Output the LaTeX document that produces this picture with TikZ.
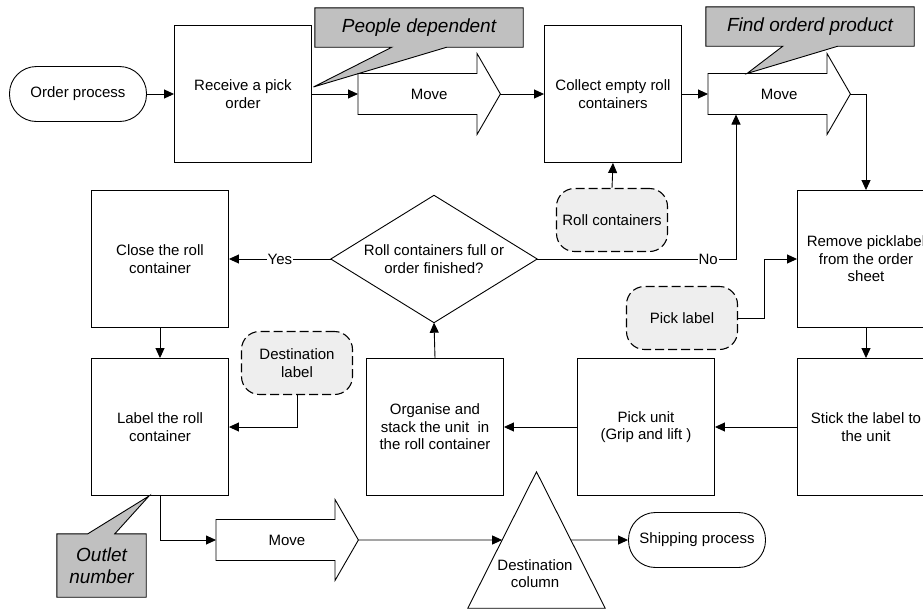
\documentclass[tikz,border=0pt]{standalone}
\usepackage{fontspec}
\setmainfont{Liberation Sans}
\usetikzlibrary{arrows.meta,calc,backgrounds}
\definecolor{callgray}{RGB}{192,192,192}
\definecolor{docgray}{RGB}{238,238,238}
\newcommand\MoveShape[1]{\draw[ln] ($(#1.west)+(0,-20.5)$) -- ++(119,0) -- ++(0,-20) -- (#1.east) -- ($(#1.west)+(119,40.5)$) -- ++(0,-20) -- ($(#1.west)+(0,20.5)$) -- cycle;}
\tikzset{
  txt/.style={font=\fontsize{15}{17.5}\selectfont},
  ln/.style={line width=0.9pt},
  box/.style={txt, draw, ln, minimum width=137pt, minimum height=137pt, align=center, inner sep=2pt},
  pill/.style={txt, draw, ln, rounded corners=27pt, minimum width=137pt, minimum height=55pt},
  doc/.style={txt, draw, line width=1.1pt, dash pattern=on 9pt off 4pt, fill=docgray, rounded corners=18pt, minimum width=111pt, minimum height=63pt, align=center, inner sep=1pt},
  arr/.style={ln, -{Triangle[length=10pt,width=9pt]}},
  lbl/.style={txt, fill=white, inner sep=1pt},
  callt/.style={font=\fontsize{19}{22}\selectfont\itshape, align=center, minimum width=208pt, minimum height=39pt, inner sep=0pt},
  mvnode/.style={txt, minimum width=142pt, minimum height=81pt, inner sep=0pt, anchor=west},
}
\begin{document}
\begin{tikzpicture}[x=1pt,y=-1pt]
\useasboundingbox (0,0) rectangle (923,611);
% nodes
\node[pill] (op) at (78,94) {Order process};
\node[box] (recv) at (243,94) {Receive a pick\\order};
\node[mvnode] (mv1) at (358,94) {Move};
\node[box] (coll) at (613,94) {Collect empty roll\\containers};
\node[mvnode] (mv2) at (708,94) {Move};
\node[box] (rem) at (866,259) {Remove picklabel\\from the order\\sheet};
\node[box] (stick) at (866,427) {Stick the label to\\the unit};
\node[box] (pick) at (646,427) {Pick unit\\(Grip and lift )};
\node[box] (org) at (435,427) {Organise and\\stack the unit\ \ in\\the roll container};
\node[box] (lab) at (160,427) {Label the roll\\container};
\node[box] (close) at (160,259) {Close the roll\\container};
\node[txt, minimum width=206pt, minimum height=127pt, inner sep=0pt, align=center] (dec) at (434,259) {Roll containers full or\\order finished?};
\draw[ln] (dec.north) -- (dec.east) -- (dec.south) -- (dec.west) -- cycle;
\node[doc] (rc) at (612,220) {Roll containers};
\node[doc] (pl) at (682,318) {Pick label};
\node[doc] (dl) at (297,363) {Destination\\label};
\node[mvnode] (mv3) at (216,540) {};
\node[txt] at ($(mv3.west)+(71,0)$) {Move};
\node[minimum width=137pt, minimum height=136pt, inner sep=0pt] (dcol) at (536.5,540) {};
\draw[ln] (dcol.north) -- (dcol.south east) -- (dcol.south west) -- cycle;
\node[txt, align=center] (dctext) at (535,573.5) {Destination\\column};
\node[pill] (ship) at (697,540) {Shipping process};
\MoveShape{mv1}
\MoveShape{mv2}
\MoveShape{mv3}
% callouts
\node[callt] (pd) at (419,27.5) {People dependent};
\node[callt] (fp) at (810,26.5) {Find orderd product};
\node[callt, minimum width=89pt, minimum height=63pt] (on) at (101.5,565.5) {Outlet\\number};
\coordinate (pdtip) at ($(recv.east)+(1.5,-7)$);
\coordinate (fptip) at ($(mv2.west)+(39,-20.5)$);
\coordinate (ontip) at ($(lab.south west)+(58,0)$);
\begin{scope}[on background layer]
\draw[ln, fill=callgray] (pd.north west) -- (pd.north east) -- (pd.south east) -- ($(pd.south west)+(132,0)$) -- (pdtip) -- ($(pd.south west)+(77,0)$) -- (pd.south west) -- cycle;
\draw[ln, fill=callgray] (fp.north west) -- (fp.north east) -- (fp.south east) -- ($(fp.south west)+(132,0)$) -- (fptip) -- ($(fp.south west)+(77,0)$) -- (fp.south west) -- cycle;
\draw[ln, fill=callgray] (on.north west) -- ($(on.north west)+(31,0)$) -- (ontip) -- ($(on.north west)+(58,0)$) -- (on.north east) -- (on.south east) -- (on.south west) -- cycle;
\end{scope}
% connectors
\coordinate (mv2b) at ($(mv2.west)+(28,20.5)$);
\draw[arr] (op.east) -- (recv.west);
\draw[arr] (recv.east) -- (mv1.west);
\draw[arr] (mv1.east) -- (coll.west);
\draw[arr] (coll.east) -- (mv2.west);
\draw[arr] (mv2.east) -| (rem.north);
\draw[arr] (rc.north) -- (coll.south);
\draw[arr] (rem.south) -- (stick.north);
\draw[arr] (stick.west) -- (pick.east);
\draw[arr] (pick.west) -- (org.east);
\draw[arr] (org.north) -- (dec.south);
\draw[arr] (dec.west) -- node[lbl]{Yes} (close.east);
\draw[arr] (dec.east) -| node[lbl, pos=0.43]{No} (mv2b);
\draw[arr] (pl.east) -- ++(26,0) |- (rem.west);
\draw[arr] (close.south) -- (lab.north);
\draw[arr] (dl.south) |- (lab.east);
\draw[arr] (lab.south) |- (mv3.west);
\draw[arr] (mv3.east) -- ($(dcol.north)!0.5!(dcol.south west)$);
\draw[arr] ($(dcol.north)!0.5!(dcol.south east)$) -- (ship.west);
\end{tikzpicture}
\end{document}
